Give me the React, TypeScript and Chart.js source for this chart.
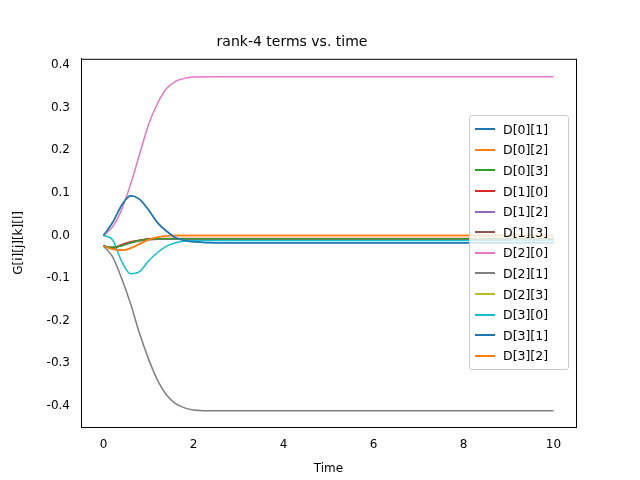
import { useEffect, useRef } from 'react';
import { Chart, registerables } from 'chart.js';

Chart.register(...registerables);

const times = [0, 0.2, 0.4, 0.6, 0.8, 1.0, 1.2, 1.4, 1.6, 1.8, 2.0, 2.5, 3, 4, 5, 6, 7, 8, 9, 10];
const d01 = [0, 0.03, 0.07, 0.093, 0.085, 0.06, 0.03, 0.01, -0.005, -0.012, -0.015, -0.017, -0.017, -0.017, -0.017, -0.017, -0.017, -0.017, -0.017, -0.017];
const d02 = [-0.025, -0.032, -0.035, -0.03, -0.02, -0.01, -0.004, -0.001, 0, 0, 0, 0, 0, 0, 0, 0, 0, 0, 0, 0];
const d03 = [-0.025, -0.028, -0.024, -0.017, -0.012, -0.009, -0.008, -0.008, -0.008, -0.008, -0.008, -0.008, -0.008, -0.008, -0.008, -0.008, -0.008, -0.008, -0.008, -0.008];
const d10 = [-0.025, -0.03, -0.022, -0.015, -0.011, -0.008, -0.007, -0.007, -0.007, -0.007, -0.007, -0.007, -0.007, -0.007, -0.007, -0.007, -0.007, -0.007, -0.007, -0.007];
const d12 = [-0.025, -0.028, -0.024, -0.018, -0.013, -0.01, -0.009, -0.009, -0.009, -0.009, -0.009, -0.009, -0.009, -0.009, -0.009, -0.009, -0.009, -0.009, -0.009, -0.009];
const d13 = [-0.025, -0.029, -0.023, -0.016, -0.012, -0.009, -0.008, -0.008, -0.008, -0.008, -0.008, -0.008, -0.008, -0.008, -0.008, -0.008, -0.008, -0.008, -0.008, -0.008];
const d20 = [0, 0.02, 0.06, 0.12, 0.19, 0.26, 0.31, 0.345, 0.362, 0.369, 0.372, 0.373, 0.373, 0.373, 0.373, 0.373, 0.373, 0.373, 0.373, 0.373];
const d21 = [-0.025, -0.05, -0.1, -0.16, -0.23, -0.29, -0.34, -0.375, -0.395, -0.405, -0.41, -0.412, -0.412, -0.412, -0.412, -0.412, -0.412, -0.412, -0.412, -0.412];
const d23 = [-0.025, -0.028, -0.024, -0.017, -0.012, -0.01, -0.009, -0.009, -0.009, -0.009, -0.009, -0.009, -0.009, -0.009, -0.009, -0.009, -0.009, -0.009, -0.009, -0.009];
const d30 = [0, -0.01, -0.06, -0.09, -0.085, -0.06, -0.04, -0.025, -0.017, -0.013, -0.012, -0.012, -0.012, -0.012, -0.012, -0.012, -0.012, -0.012, -0.012, -0.012];
const d31 = [0, 0.03, 0.07, 0.093, 0.085, 0.06, 0.03, 0.01, -0.005, -0.012, -0.015, -0.017, -0.017, -0.017, -0.017, -0.017, -0.017, -0.017, -0.017, -0.017];
const d32 = [-0.025, -0.032, -0.035, -0.03, -0.02, -0.01, -0.004, -0.001, 0, 0, 0, 0, 0, 0, 0, 0, 0, 0, 0, 0];

const labels = ['D[0][1]', 'D[0][2]', 'D[0][3]', 'D[1][0]', 'D[1][2]', 'D[1][3]', 'D[2][0]', 'D[2][1]', 'D[2][3]', 'D[3][0]', 'D[3][1]', 'D[3][2]'];
const series = [d01, d02, d03, d10, d12, d13, d20, d21, d23, d30, d31, d32];
const colors = ['#1f77b4', '#ff7f0e', '#2ca02c', '#d62728', '#9467bd', '#8c564b', '#e377c2', '#7f7f7f', '#bcbd22', '#17becf', '#1f77b4', '#ff7f0e'];
const xTicks = [0, 2, 4, 6, 8, 10];
const yTicks = [-0.4, -0.3, -0.2, -0.1, 0, 0.1, 0.2, 0.3, 0.4];

const font = 'DejaVu Sans';

const frame = {
  id: 'frame',
  afterDraw(chart: Chart) {
    const { ctx, chartArea: a } = chart;
    ctx.save();
    ctx.strokeStyle = '#000';
    ctx.lineWidth = 1;
    ctx.strokeRect(a.left + 0.5, a.top + 0.5, a.right - a.left, a.bottom - a.top);
    ctx.restore();
  },
};

export default function App() {
  const canvasRef = useRef<HTMLCanvasElement>(null);

  useEffect(() => {
    if (!canvasRef.current) return;
    const chart = new Chart(canvasRef.current, {
      type: 'line',
      data: {
        datasets: series.map((s, i) => ({
          label: labels[i],
          data: s.map((v, j) => ({ x: times[j], y: v })),
          borderColor: colors[i],
          borderWidth: 1.5,
          pointRadius: 0,
          cubicInterpolationMode: 'monotone' as const,
        })),
      },
      options: {
        animation: false,
        responsive: false,
        layout: { padding: { right: 64, left: 8 } },
        scales: {
          x: {
            type: 'linear', min: -0.5, max: 10.5,
            grid: { display: false },
            border: { color: '#000' },
            afterBuildTicks: (s) => { s.ticks = xTicks.map((v) => ({ value: v })); },
            ticks: { color: '#000', font: { family: font, size: 12 }, callback: (v) => String(v) },
            title: { display: true, text: 'Time', color: '#000', font: { family: font, size: 12 } },
            afterFit: (s) => { s.height = 53; },
          },
          y: {
            min: -0.45, max: 0.415,
            grid: { display: false },
            border: { color: '#000' },
            afterBuildTicks: (s) => { s.ticks = yTicks.map((v) => ({ value: v })); },
            ticks: { color: '#000', font: { family: font, size: 12 }, callback: (v) => Number(v).toFixed(1) },
            title: { display: true, text: 'G[i][j][k][l]', color: '#000', font: { family: font, size: 12 } },
            afterFit: (s) => { s.width = 73; },
          },
        },
        plugins: {
          legend: { display: false },
          tooltip: { enabled: false },
          title: { display: true, text: 'rank-4 terms vs. time', color: '#000', font: { family: font, size: 14, weight: 'normal' }, padding: { top: 34, bottom: 8 } },
        },
      },
      plugins: [frame],
    });
    return () => chart.destroy();
  }, []);

  return (
    <div style={{ position: 'relative', width: 640, height: 480, margin: -8 }}>
      <canvas ref={canvasRef} width={640} height={480} />
      <div style={{ position: 'absolute', left: 469, top: 115, width: 100, height: 255, border: '1px solid #ccc', borderRadius: 3, background: 'rgba(255,255,255,0.8)', fontFamily: font, fontSize: 12.5, padding: '3px 0', boxSizing: 'border-box' }}>
        {labels.map((l, i) => (
          <div key={l} style={{ display: 'flex', alignItems: 'center', height: 20.6 }}>
            <span style={{ display: 'inline-block', width: 20, height: 0, borderTop: `2px solid ${colors[i]}`, marginLeft: 5, marginRight: 8 }} />
            {l}
          </div>
        ))}
      </div>
    </div>
  );
}
